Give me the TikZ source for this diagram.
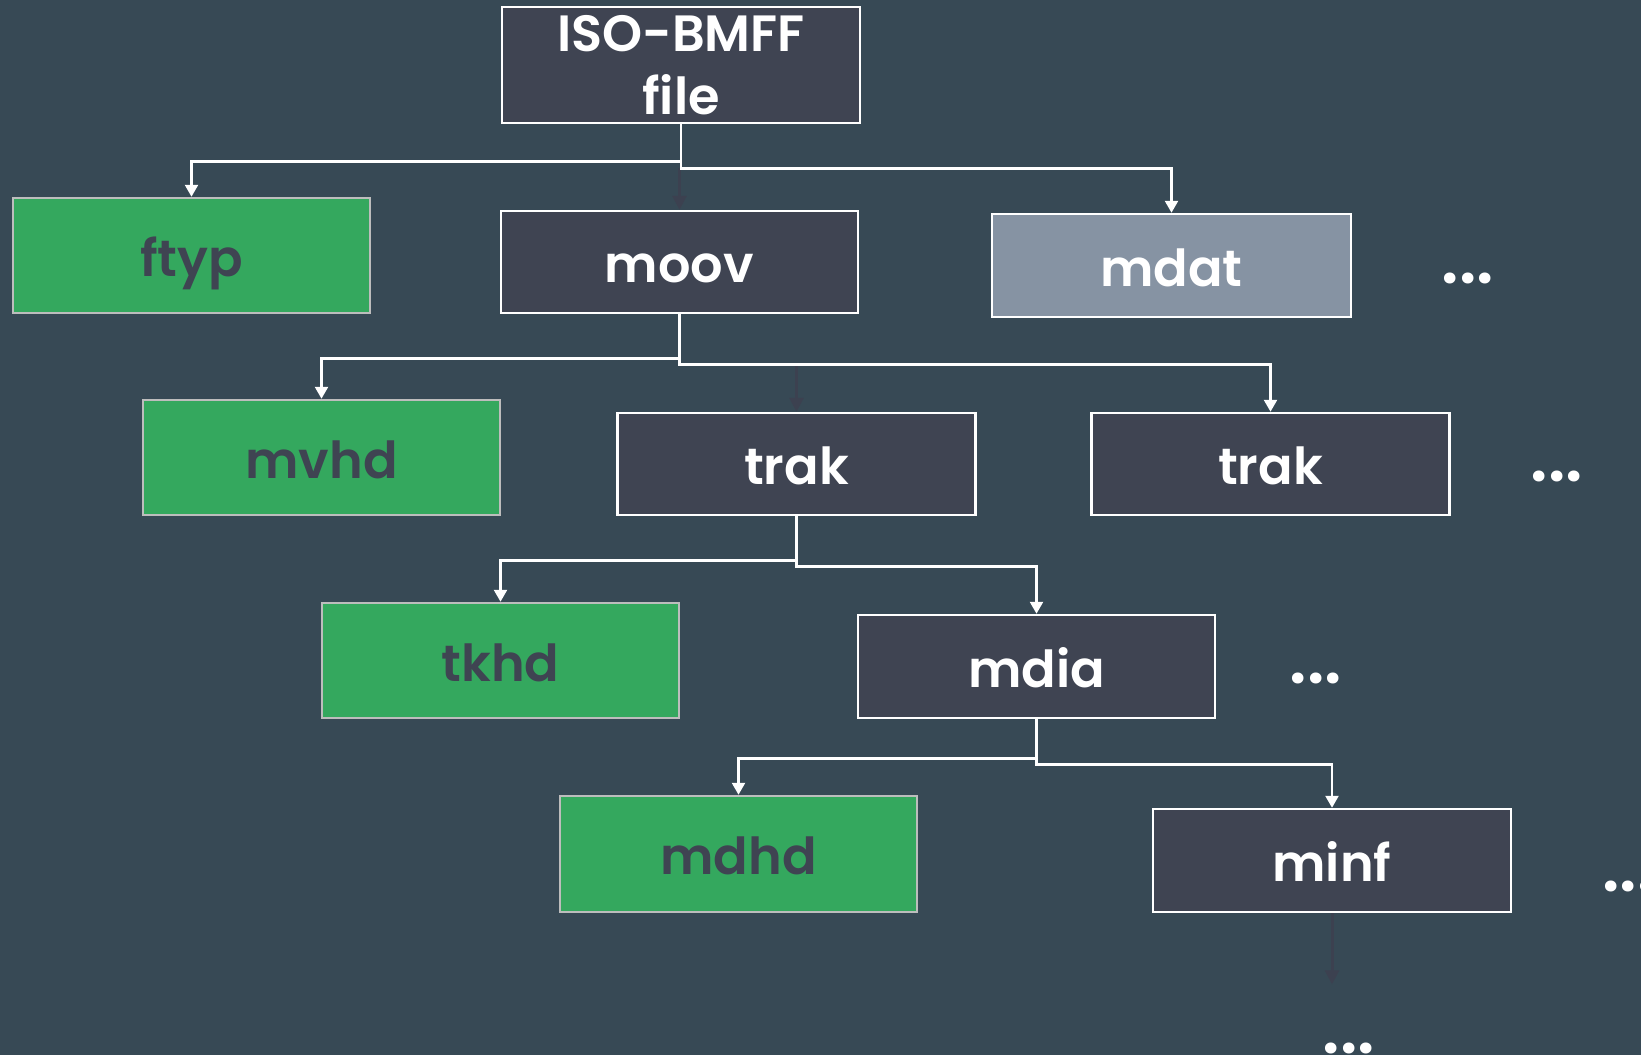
\documentclass[tikz,border=0pt]{standalone}
\usepackage{fontspec}
\setmainfont{Poppins}[BoldFont={Poppins SemiBold}]
\usetikzlibrary{calc,arrows.meta}
\definecolor{bg}{HTML}{374955}
\definecolor{boxdark}{HTML}{3F4452}
\definecolor{darkarrow}{HTML}{3C4150}
\definecolor{boxgreen}{HTML}{34A85E}
\definecolor{boxgray}{HTML}{8693A3}
\definecolor{greenedge}{HTML}{BDBDBD}
\begin{document}
\begin{tikzpicture}[x=1pt,y=-1pt,
  basebox/.style={line width=2.5pt, inner sep=0pt, minimum width=357pt,
    font=\bfseries\fontsize{51}{63}\selectfont},
  darkbox/.style={basebox, draw=white, fill=boxdark, text=white, minimum height=102pt,
    text height=41pt, text depth=0pt},
  greenbox/.style={basebox, draw=greenedge, fill=boxgreen, text=boxdark, minimum height=115pt,
    text height=41pt, text depth=0pt},
  graybox/.style={basebox, draw=white, fill=boxgray, text=white, minimum height=103pt,
    text height=41pt, text depth=0pt},
  conn/.style={draw=white, line width=2.5pt, -{Triangle[width=13pt,length=12pt]}},
  darr/.style={draw=darkarrow, line width=3pt, -{Triangle[width=14pt,length=14pt]}},
  dotsnode/.style={inner sep=0pt, text=white, font=\bfseries\fontsize{67}{67}\selectfont}
]
\useasboundingbox (0,0) rectangle (1641,1055);
\clip (0,0) rectangle (1641,1055);
\fill[bg] (0,0) rectangle (1641,1055);

% boxes
\node[basebox, draw=white, fill=boxdark, text=white, minimum height=116pt, minimum width=358pt, align=center]
  (file) at (681,65) {ISO-BMFF\\file};
\node[greenbox] (ftyp) at (191.5,255.5) {ftyp};
\node[darkbox] (moov) at (679.5,262) {moov};
\node[graybox, minimum width=359pt] (mdat) at (1171.5,265.5) {mdat};
\node[greenbox] (mvhd) at (321.5,457.5) {mvhd};
\node[darkbox, minimum width=358pt] (trakA) at (796.5,464) {trak};
\node[darkbox, minimum width=358pt] (trakB) at (1270.5,464) {trak};
\node[greenbox] (tkhd) at (500.5,660.5) {tkhd};
\node[darkbox, minimum height=103pt] (mdia) at (1036.5,666.5) {mdia};
\node[greenbox, minimum height=116pt] (mdhd) at (738.5,854) {mdhd};
\node[darkbox, minimum height=103pt, minimum width=358pt] (minf) at (1332,860.5) {minf};

% ellipses
\node[dotsnode] (d1) at (1467.7,278.7) {...};
\node[dotsnode] (d2) at (1556.7,476) {...};
\node[dotsnode] (d3) at (1316,678) {...};
\node[dotsnode] (d4) at (1628.6,886.7) {...};
\node[dotsnode] (d5) at (1348.7,1048) {...};

% junction coordinates
\coordinate (fj) at ($(file.south)+(0,44)$);
\coordinate (mj) at ($(moov.south)+(0,50)$);
\coordinate (minfend) at ($(minf.south)+(0,71)$);

% dark arrows
\draw[darr] (fj -| moov.north) -- (moov.north);
\draw[darr] (mj -| trakA.north) -- (trakA.north);
\draw[darr] (minf.south) -- (minfend);

% white connectors
\draw[conn] (file.south) -- ++(0,37) -| (ftyp.north);
\draw[conn] (file.south) -- (fj) -| (mdat.north);
\draw[conn] (moov.south) -- ++(0,44) -| (mvhd.north);
\draw[conn] (moov.south) -- (mj) -| (trakB.north);
\draw[conn] (trakA.south) -- ++(0,44) -| (tkhd.north);
\draw[conn] (trakA.south) -- ++(0,50) -| (mdia.north);
\draw[conn] (mdia.south) -- ++(0,39) -| (mdhd.north);
\draw[conn] (mdia.south) -- ++(0,45) -| (minf.north);
\end{tikzpicture}
\end{document}
